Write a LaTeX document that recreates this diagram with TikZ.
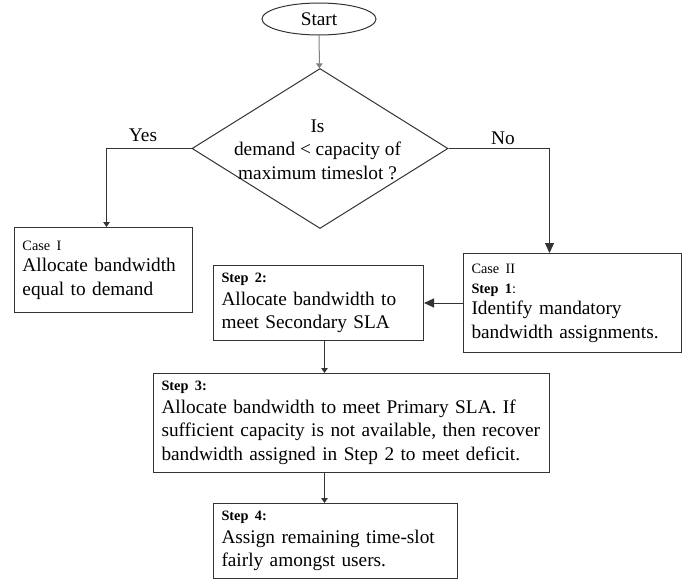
\documentclass[tikz,border=0pt]{standalone}
\usepackage{fontspec}
\setmainfont{Liberation Serif}
\usetikzlibrary{shapes.geometric, arrows.meta, positioning, calc}
\hyphenpenalty=10000
\newcommand{\bigfnt}{\fontsize{19.3}{23.5}\selectfont}
\newcommand{\smallfnt}{\fontsize{14.3}{17}\selectfont}
\tikzstyle{terminal}=[shape=ellipse, draw=black!80, inner sep=0pt, minimum width=114pt, minimum height=32pt, font=\bigfnt]
\tikzstyle{decision}=[shape=diamond, draw=black!80, inner sep=0pt, minimum width=256pt, minimum height=160pt]
\tikzstyle{stepbox}=[shape=rectangle, draw=black!80, anchor=north west, align=left, inner xsep=8pt, inner ysep=0pt, font=\bigfnt]
\tikzstyle{plain}=[inner sep=0pt, font=\bigfnt]
\tikzstyle{arrs}=[draw=black!80, -{Triangle[length=5pt,width=6.5pt]}]
\tikzstyle{arrb}=[draw=black!80, -{Triangle[length=10pt,width=9pt]}]

\begin{document}
\begin{tikzpicture}[x=1pt, y=-1pt, line width=1pt]
\useasboundingbox (0,0) rectangle (697,581);
\node[terminal] (start) at (319,19) {Start};
\node[decision] (dec) at (320,148.5) {};
\node[plain, align=center] (q) at (317.5,149.5) {Is\\demand < capacity of\\maximum timeslot ?};
\node[plain] (yes) at (143,135) {Yes};
\node[plain] (no) at (503,138) {No};
%case boxes
\node[stepbox, text width=162pt, minimum height=85pt] (case1) at (14,227)
  {{\smallfnt Case I}\\[-2pt] Allocate bandwidth\\ equal to demand};
\node[stepbox, text width=202pt, minimum height=99pt] (case2) at (463,253)
  {{\smallfnt Case II}\\[-3.5pt] {\smallfnt\textbf{Step 1}:}\\[-2pt] Identify mandatory\\ bandwidth assignments.};
%step boxes
\node[stepbox, text width=194pt, minimum height=75pt] (step2) at (213,265)
  {{\smallfnt\textbf{Step 2:}}\\[-1pt] Allocate bandwidth to\\ meet Secondary SLA};
\node[stepbox, text width=380pt, minimum height=99pt] (step3) at (153,373)
  {{\smallfnt\textbf{Step 3:}}\\[-1pt] Allocate bandwidth to meet Primary SLA. If\\ sufficient capacity is not available, then recover\\ bandwidth assigned in Step 2 to meet deficit.};
\node[stepbox, text width=228pt, minimum height=75pt] (step4) at (213,503)
  {{\smallfnt\textbf{Step 4:}}\\[-1pt] Assign remaining time-slot\\ fairly amongst users.};
%arrows
\coordinate (spine) at (324.5,0);
\draw[arrs, draw=black!50] (start) -- (dec);
\draw[arrs] (dec.west) -| ([xshift=3pt]case1.north);
\draw[arrb] (dec.east) -| ([xshift=-23pt]case2.north);
\draw[arrb] (case2.west) -- (step2.east);
\draw[arrs] (step2.south -| spine) -- (step3.north -| spine);
\draw[arrs] (step3.south -| spine) -- (step4.north -| spine);
\end{tikzpicture}
\end{document}
